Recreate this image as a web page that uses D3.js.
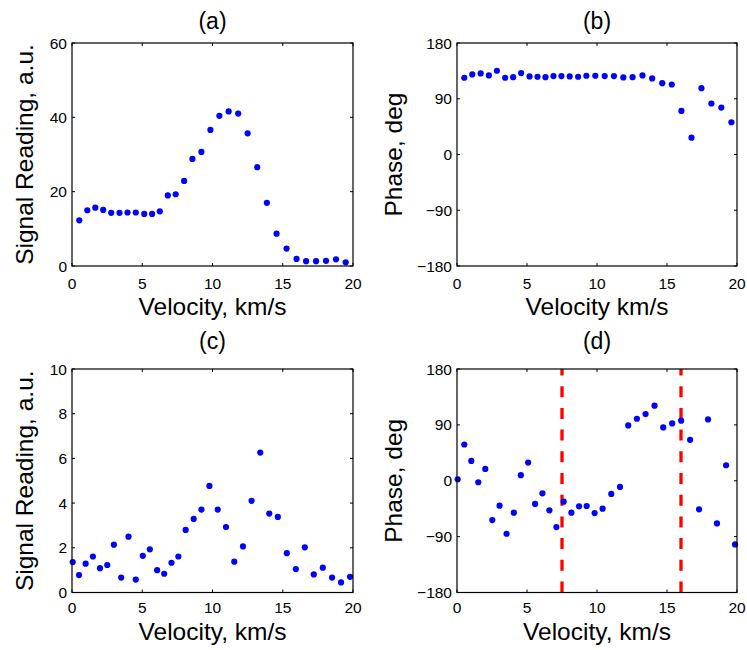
<!DOCTYPE html>
<html>
<head>
<meta charset="utf-8">
<script src="https://cdn.jsdelivr.net/npm/d3@7"></script>
<style>
  html, body { margin: 0; padding: 0; background: #fff; }
  svg { display: block; }
  text { font-family: "Liberation Sans", Arial, Helvetica, sans-serif; fill: #000; }
</style>
</head>
<body>
<svg id="chart" width="747" height="650"></svg>
<script>
// ---- Data ----
const velA = [0.52,1.09,1.66,2.22,2.79,3.38,3.95,4.54,5.14,5.70,6.25,6.82,7.38,7.98,8.57,9.21,9.85,10.49,11.15,11.83,12.50,13.18,13.87,14.56,15.27,15.98,16.66,17.37,18.08,18.79,19.48];
const sigA = [12.3,15.0,15.7,15.1,14.3,14.3,14.4,14.4,14.0,14.0,14.7,19.0,19.3,22.9,28.8,30.7,36.6,40.4,41.6,41.0,35.7,26.6,17.0,8.7,4.7,1.9,1.3,1.3,1.4,1.8,1.0];

const velB = [0.52,1.09,1.69,2.28,2.85,3.44,4.01,4.58,5.18,5.75,6.32,6.89,7.46,8.05,8.65,9.24,9.88,10.55,11.21,11.88,12.54,13.25,13.94,14.66,15.34,16.03,16.75,17.46,18.17,18.88,19.60];
const phaseB = [123.9,129.2,130.9,127.6,135.2,123.9,124.9,131.4,126.0,125.5,124.9,126.6,126.6,126.0,125.5,127.1,127.1,126.6,126.6,124.4,124.9,127.6,122.8,115.2,113.0,70.4,27.2,107.1,82.3,75.8,52.1];

const velC = [0.05,0.50,0.97,1.49,1.99,2.51,2.98,3.50,4.02,4.54,5.04,5.54,6.06,6.56,7.08,7.57,8.09,8.66,9.21,9.78,10.37,10.96,11.55,12.17,12.78,13.40,14.04,14.65,15.29,15.93,16.57,17.21,17.85,18.51,19.15,19.79];
const sigC = [1.36,0.78,1.29,1.61,1.09,1.23,2.14,0.67,2.50,0.58,1.64,1.93,1.00,0.84,1.33,1.61,2.80,3.29,3.71,4.77,3.71,2.93,1.38,2.06,4.10,6.26,3.53,3.38,1.76,1.05,2.02,0.81,1.11,0.67,0.45,0.70];

const velD = [0.05,0.52,1.02,1.52,2.02,2.52,3.04,3.54,4.06,4.56,5.08,5.58,6.10,6.60,7.10,7.62,8.17,8.72,9.26,9.83,10.40,11.02,11.64,12.23,12.85,13.47,14.11,14.73,15.37,16.01,16.65,17.29,17.93,18.57,19.22,19.86];
const phaseD = [2.4,58.4,32.0,-2.4,19.1,-63.3,-40.1,-85.4,-51.4,8.9,29.3,-37.4,-20.2,-47.7,-74.6,-33.7,-51.4,-41.2,-40.7,-52.0,-45.0,-21.3,-10.0,89.1,99.9,107.4,120.9,85.9,92.4,96.7,66.0,-46.0,98.8,-68.7,25.0,-102.6];

const markerVel = [7.5, 16.0];

const xTicks = [0, 5, 10, 15, 20];
const yTicksSignalA = [0, 20, 40, 60];
const yTicksSignalC = [0, 2, 4, 6, 8, 10];
const yTicksPhase = [-180, -90, 0, 90, 180];

// ---- Layout ----
const svg = d3.select("#chart");
const colL = { x0: 72, x1: 353 };
const colR = { x0: 457, x1: 737 };
const rowT = { y0: 43, y1: 266, titleY: 29, tickY: 288.5, labelY: 315 };
const rowB = { y0: 369, y1: 592.5, titleY: 349, tickY: 612.5, labelY: 640 };

const fmt = d => (d < 0 ? "\u2212" + Math.abs(d) : String(d));

function panel(col, row, opts) {
  const g = svg.append("g");
  const x = d3.scaleLinear().domain([0, 20]).range([col.x0, col.x1]);
  const y = d3.scaleLinear().domain(opts.yDomain).range([row.y1, row.y0]);
  const tl = 3;

  if (opts.vlines) {
    g.selectAll("line.vl").data(opts.vlines).join("line")
      .attr("x1", d => x(d)).attr("x2", d => x(d))
      .attr("y1", row.y1).attr("y2", row.y0)
      .attr("stroke", "#ff0000").attr("stroke-width", 3.3)
      .attr("stroke-dasharray", "11,10.7");
  }

  g.selectAll("circle").data(opts.xs.map((v, i) => [v, opts.ys[i]])).join("circle")
    .attr("cx", d => x(d[0])).attr("cy", d => y(d[1])).attr("r", 3.1)
    .attr("fill", "#0000ff");

  const tk = g.append("g").attr("stroke", "#000").attr("stroke-width", 1);
  opts.xTicks.forEach(t => {
    tk.append("line").attr("x1", x(t)).attr("x2", x(t)).attr("y1", row.y1).attr("y2", row.y1 - tl);
    tk.append("line").attr("x1", x(t)).attr("x2", x(t)).attr("y1", row.y0).attr("y2", row.y0 + tl);
  });
  opts.yTicks.forEach(t => {
    tk.append("line").attr("x1", col.x0).attr("x2", col.x0 + tl).attr("y1", y(t)).attr("y2", y(t));
    tk.append("line").attr("x1", col.x1).attr("x2", col.x1 - tl).attr("y1", y(t)).attr("y2", y(t));
  });

  g.append("rect").attr("x", col.x0).attr("y", row.y0)
    .attr("width", col.x1 - col.x0).attr("height", row.y1 - row.y0)
    .attr("fill", "none").attr("stroke", "#000").attr("stroke-width", 1.2);

  g.selectAll("text.xt").data(opts.xTicks).join("text")
    .attr("x", d => x(d)).attr("y", row.tickY).attr("text-anchor", "middle")
    .style("font-size", "15.5px").text(fmt);
  g.selectAll("text.yt").data(opts.yTicks).join("text")
    .attr("x", col.x0 - 5).attr("y", d => y(d)).attr("dy", "0.36em").attr("text-anchor", "end")
    .style("font-size", "15.5px").text(fmt);

  g.append("text").attr("x", (col.x0 + col.x1) / 2).attr("y", row.titleY)
    .attr("text-anchor", "middle").style("font-size", "23px").text(opts.title);
  g.append("text").attr("x", (col.x0 + col.x1) / 2).attr("y", row.labelY)
    .attr("text-anchor", "middle").style("font-size", "24.5px").text(opts.xLabel);
  const yc = (row.y0 + row.y1) / 2;
  g.append("text").attr("transform", `translate(${opts.yLabelX},${yc}) rotate(-90)`)
    .attr("text-anchor", "middle").style("font-size", "24.5px").text(opts.yLabel);
}

panel(colL, rowT, { xs: velA, ys: sigA, yDomain: [0, 60], xTicks, yTicks: yTicksSignalA,
  title: "(a)", xLabel: "Velocity, km/s", yLabel: "Signal Reading, a.u.", yLabelX: 33 });
panel(colR, rowT, { xs: velB, ys: phaseB, yDomain: [-180, 180], xTicks, yTicks: yTicksPhase,
  title: "(b)", xLabel: "Velocity km/s", yLabel: "Phase, deg", yLabelX: 402 });
panel(colL, rowB, { xs: velC, ys: sigC, yDomain: [0, 10], xTicks, yTicks: yTicksSignalC,
  title: "(c)", xLabel: "Velocity, km/s", yLabel: "Signal Reading, a.u.", yLabelX: 33 });
panel(colR, rowB, { xs: velD, ys: phaseD, yDomain: [-180, 180], xTicks, yTicks: yTicksPhase,
  title: "(d)", xLabel: "Velocity, km/s", yLabel: "Phase, deg", yLabelX: 402, vlines: markerVel });
</script>
</body>
</html>
